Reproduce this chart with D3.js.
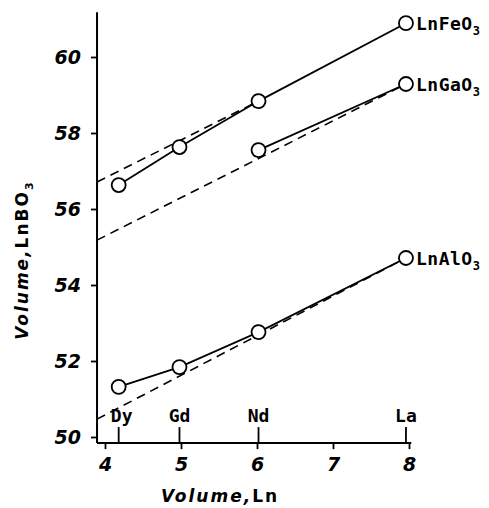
<!DOCTYPE html>
<html>
<head>
<meta charset="utf-8">
<script src="https://cdn.jsdelivr.net/npm/d3@7"></script>
<style>
  body { margin: 0; background: #fff; }
  .tick text { font-family: "DejaVu Sans", sans-serif; font-weight: bold; font-style: italic; }
</style>
</head>
<body>
<svg width="489" height="508"></svg>
<script>
// element volumes (x) and compound volumes (y)
const elements = ["Dy", "Gd", "Nd", "La"]
const lnVolume = [4.18, 4.98, 6.02, 7.96]

const feVolume = [56.63, 57.63, 58.84, 60.89]
const gaVolume = [null, null, 57.55, 59.29]
const alVolume = [51.32, 51.84, 52.76, 54.71]

const seriesNames = ["LnFeO", "LnGaO", "LnAlO"]

// dashed reference lines: [x0, y0, x1, y1]
const feDash = [3.895, 56.71, 6.02, 58.84]
const gaDash = [3.895, 55.18, 7.96, 59.29]
const alDash = [3.895, 50.47, 7.96, 54.71]

const xTicks = [4, 5, 6, 7, 8]
const yTicks = [50, 52, 54, 56, 58, 60]

const svg = d3.select("svg")
const x = d3.scaleLinear().domain([4, 8]).range([105, 409])
const y = d3.scaleLinear().domain([50, 60]).range([437, 57])

const xMin = 3.895
const yMin = 49.84
const yMax = 61.18

// axes lines
svg.append("line")
  .attr("x1", x(xMin)).attr("x2", x(xMin))
  .attr("y1", y(yMax)).attr("y2", y(yMin))
  .attr("stroke", "#000").attr("stroke-width", 2)
svg.append("line")
  .attr("x1", x(xMin)).attr("x2", x(8.03))
  .attr("y1", y(yMin)).attr("y2", y(yMin))
  .attr("stroke", "#000").attr("stroke-width", 2)

const yAxis = svg.append("g")
  .attr("transform", `translate(${x(xMin)},0)`)
  .call(d3.axisLeft(y).tickValues(yTicks).tickSize(6).tickPadding(10).tickFormat(d3.format("d")))
yAxis.select(".domain").remove()
yAxis.selectAll(".tick line").attr("stroke-width", 1.8)
yAxis.selectAll(".tick text").attr("font-size", 19).attr("fill", "#000")

const xAxis = svg.append("g")
  .attr("transform", `translate(0,${y(yMin)})`)
  .call(d3.axisBottom(x).tickValues(xTicks).tickSize(6).tickPadding(8).tickFormat(d3.format("d")))
xAxis.select(".domain").remove()
xAxis.selectAll(".tick line").attr("stroke-width", 1.8)
xAxis.selectAll(".tick text").attr("font-size", 19).attr("fill", "#000")

// element markers above the x axis
const el = svg.append("g")
elements.forEach((name, i) => {
  el.append("line")
    .attr("x1", x(lnVolume[i])).attr("x2", x(lnVolume[i]))
    .attr("y1", y(yMin)).attr("y2", y(yMin) - 16)
    .attr("stroke", "#000").attr("stroke-width", 1.8)
  el.append("text")
    .attr("x", x(lnVolume[i]) + (i === 0 ? 3 : 0))
    .attr("y", y(yMin) - 21)
    .attr("text-anchor", "middle")
    .attr("font-family", "DejaVu Sans Mono, monospace")
    .attr("font-weight", "bold")
    .attr("font-size", 18)
    .text(name)
})

// dashed lines
;[feDash, gaDash, alDash].forEach((d) => {
  svg.append("line")
    .attr("x1", x(d[0])).attr("y1", y(d[1]))
    .attr("x2", x(d[2])).attr("y2", y(d[3]))
    .attr("stroke", "#000").attr("stroke-width", 1.6)
    .attr("stroke-dasharray", "9,6")
})

// series lines and circles
const line = d3.line()
  .defined((d) => d[1] != null)
  .x((d) => x(d[0]))
  .y((d) => y(d[1]))

const series = [feVolume, gaVolume, alVolume]
series.forEach((vals, k) => {
  const pts = lnVolume.map((v, i) => [v, vals[i]])
  svg.append("path")
    .datum(pts)
    .attr("d", line)
    .attr("fill", "none")
    .attr("stroke", "#000")
    .attr("stroke-width", 1.8)
  svg.append("g")
    .selectAll("circle")
    .data(pts.filter((d) => d[1] != null))
    .join("circle")
    .attr("cx", (d) => x(d[0]))
    .attr("cy", (d) => y(d[1]))
    .attr("r", 7)
    .attr("fill", "#fff")
    .attr("stroke", "#000")
    .attr("stroke-width", 1.8)

  const last = pts[pts.length - 1]
  const t = svg.append("text")
    .attr("x", x(last[0]) + 10)
    .attr("y", y(last[1]) + 7)
    .attr("font-family", "DejaVu Sans Mono, monospace")
    .attr("font-weight", "bold")
    .attr("font-size", 18)
    .attr("letter-spacing", 0.5)
  t.append("tspan").text(seriesNames[k])
  t.append("tspan").attr("dy", 5).attr("font-size", 12).text("3")
})

// axis titles
svg.append("text")
  .attr("x", 220)
  .attr("y", 502)
  .attr("text-anchor", "middle")
  .attr("font-family", "DejaVu Sans, sans-serif")
  .attr("font-weight", "bold")
  .attr("font-size", 17)
  .attr("letter-spacing", 2)
  .html('<tspan font-style="italic">Volume,</tspan><tspan>Ln</tspan>')

const yt = svg.append("text")
  .attr("transform", "translate(28,260) rotate(-90)")
  .attr("text-anchor", "middle")
  .attr("font-family", "DejaVu Sans, sans-serif")
  .attr("font-weight", "bold")
  .attr("font-size", 17)
  .attr("letter-spacing", 2)
yt.append("tspan").attr("font-style", "italic").text("Volume,")
yt.append("tspan").text("LnBO")
yt.append("tspan").attr("dy", 5).attr("font-size", 11).text("3")
</script>
</body>
</html>
